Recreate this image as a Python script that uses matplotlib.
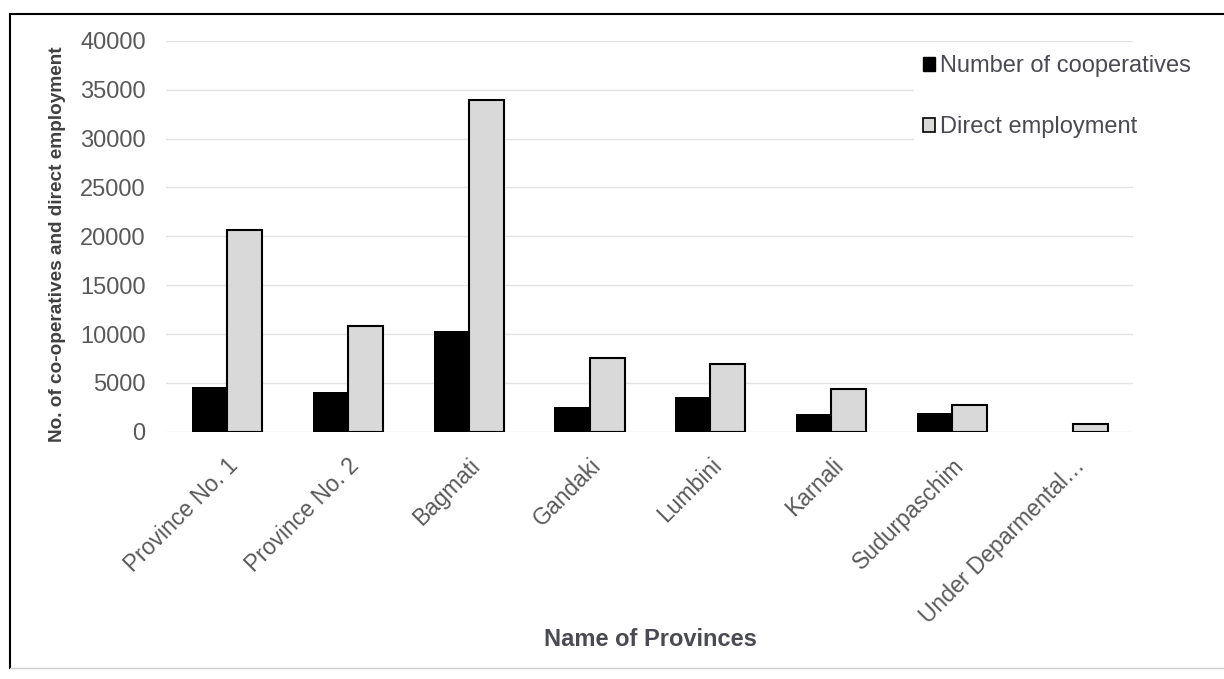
import matplotlib.pyplot as plt
import numpy as np
from matplotlib.patches import Patch
from matplotlib.lines import Line2D

# values
provinces = ['Province No. 1', 'Province No. 2', 'Bagmati', 'Gandaki',
             'Lumbini', 'Karnali', 'Sudurpaschim', 'Under Deparmental…']
cooperatives = [4600, 4100, 10330, 2560, 3580, 1840, 1950, 0]
employment = [20600, 10800, 33900, 7570, 6960, 4400, 2760, 820]
yticks = [0, 5000, 10000, 15000, 20000, 25000, 30000, 35000, 40000]

plt.rcParams['font.family'] = ['Liberation Sans', 'DejaVu Sans']

fig = plt.figure(figsize=(12.24, 6.79), dpi=100)
ax = fig.add_axes([0.136, 0.364, 0.79, 0.576])

x = np.arange(len(provinces))
w = 0.29
ax.bar(x - w / 2, cooperatives, w, color='black', linewidth=0, zorder=3)
ax.bar(x + w / 2, employment, w, color='#d9d9d9', edgecolor='black',
       linewidth=1.5, zorder=3)

ax.set_xlim(-0.5, len(provinces) - 0.5)
ax.set_ylim(0, 40000)
ax.set_yticks(yticks)
ax.set_yticklabels([str(v) for v in yticks], fontsize=17, color='#595959')
ax.yaxis.grid(True, color='#e3e3e3', linewidth=1, zorder=0)
ax.tick_params(axis='both', length=0)
ax.tick_params(axis='y', pad=15)
for s in ax.spines.values():
    s.set_visible(False)

ax.set_xticks(x)
ax.set_xticklabels(provinces, rotation=45, ha='right', rotation_mode='anchor',
                   fontsize=16.5, color='#595959')
ax.tick_params(axis='x', pad=16)

fig.text(58 / 1224, 0.64, 'No. of co-operatives and direct employment',
         rotation=90, ha='center', va='center', fontsize=13.7,
         fontweight='bold', color='#404040')
fig.text(650 / 1224, 1 - 640 / 679, 'Name of Provinces', ha='center',
         va='center', fontsize=17, fontweight='bold', color='#4a4a52')

handles = [Patch(facecolor='black', edgecolor='black'),
           Patch(facecolor='#d9d9d9', edgecolor='black', linewidth=1.2)]
leg = fig.legend(handles, ['Number of cooperatives', 'Direct employment'],
                 loc='upper left', bbox_to_anchor=(0.737, 0.95),
                 frameon=True, fontsize=17, labelcolor='#4a4a52',
                 handlelength=0.5, handleheight=0.5, handletextpad=0.2,
                 labelspacing=1.65, borderpad=0.4)
leg.get_frame().set_facecolor('white')
leg.get_frame().set_edgecolor('white')
leg.get_frame().set_alpha(1)

# outer border of the figure
fig.add_artist(Line2D([0.008, 0.008], [0.016, 0.979], color='black', linewidth=1.5))
fig.add_artist(Line2D([0.008, 1.0], [0.979, 0.979], color='black', linewidth=1.5))
fig.add_artist(Line2D([0.008, 1.0], [0.016, 0.016], color='#cccccc', linewidth=1))

fig.savefig('out.png', dpi=100)
